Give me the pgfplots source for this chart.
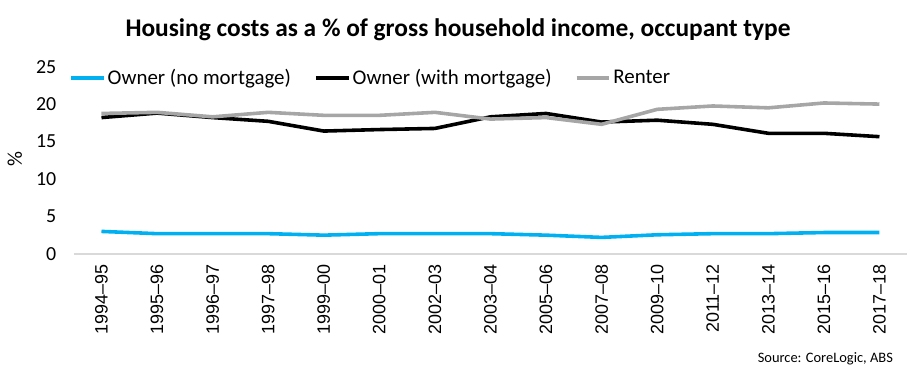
\documentclass[border=0pt]{standalone}
\usepackage{fontspec}
\setmainfont{Carlito}
\newfontfamily\arialf{Liberation Sans}
\usepackage{pgfplots}
\pgfplotsset{compat=1.18}
\definecolor{cblue}{HTML}{00B0F0}
\definecolor{cgray}{HTML}{A6A6A6}
\definecolor{caxis}{HTML}{D9D9D9}
\begin{document}
\begin{tikzpicture}
\begin{axis}[
  scale only axis,
  width=837pt, height=188pt,
  clip=false,
  xmin=-0.5, xmax=14.5, ymin=0, ymax=25,
  ytick={0,5,10,15,20,25},
  xtick={0,...,14},
  xticklabels={1994–95,1995–96,1996–97,1997–98,1999–00,2000–01,2002–03,2003–04,2005–06,2007–08,2009–10,2011–12,2013–14,2015–16,2017–18},
  axis x line*=bottom, axis y line*=left,
  y axis line style={draw=none},
  x axis line style={draw=caxis, line width=1.5pt},
  major tick length=0pt,
  /pgf/number format/assume math mode=true,
  yticklabel style={font=\fontsize{20}{24}\selectfont},
  yticklabel shift=14pt,
  xticklabel style={rotate=90, anchor=east, font=\arialf\fontsize{18}{21}\selectfont},
  xticklabel shift=7pt,
  ylabel={\%},
  ylabel style={at={(axis description cs:-0.0705,0.505)}, anchor=center, rotate=0, font=\fontsize{21}{25}\selectfont},
  legend style={at={(-0.006,0.94)}, anchor=west, draw=none, fill=none, inner sep=0pt,
    font=\fontsize{21}{25}\selectfont,
    /tikz/every even column/.append style={column sep=21pt}},
  legend columns=3,
  legend cell align=left,
  legend image code/.code={\draw[#1, line width=4pt] (0pt,0pt) -- (33pt,0pt);},
  every axis plot/.append style={line width=3.6pt, line join=round, no markers},
]
\addplot[cblue] coordinates {(0,3.0) (1,2.7) (2,2.7) (3,2.7) (4,2.5) (5,2.7) (6,2.7) (7,2.7) (8,2.5) (9,2.2) (10,2.55) (11,2.7) (12,2.7) (13,2.85) (14,2.85)};
\addlegendentry{Owner (no mortgage)}
\addplot[black] coordinates {(0,18.2) (1,18.8) (2,18.2) (3,17.7) (4,16.4) (5,16.6) (6,16.75) (7,18.3) (8,18.75) (9,17.6) (10,17.85) (11,17.3) (12,16.1) (13,16.1) (14,15.65)};
\addlegendentry{Owner (with mortgage)}
\addplot[cgray] coordinates {(0,18.75) (1,18.9) (2,18.3) (3,18.9) (4,18.5) (5,18.5) (6,18.9) (7,18.0) (8,18.2) (9,17.3) (10,19.3) (11,19.75) (12,19.5) (13,20.15) (14,20.0)};
\addlegendentry{Renter}
\path (axis description cs:-0.0884,-0.649) rectangle (axis description cs:1.0,1.356);
\node[font=\fontsize{25.5}{30}\selectfont\bfseries] at (axis description cs:0.461,1.197) {Housing costs as a \% of gross household income, occupant type};
\node[font=\fontsize{14.5}{17}\selectfont, anchor=east] at (axis description cs:0.987,-0.5585) {Source: CoreLogic, ABS};
\end{axis}
\end{tikzpicture}
\end{document}
